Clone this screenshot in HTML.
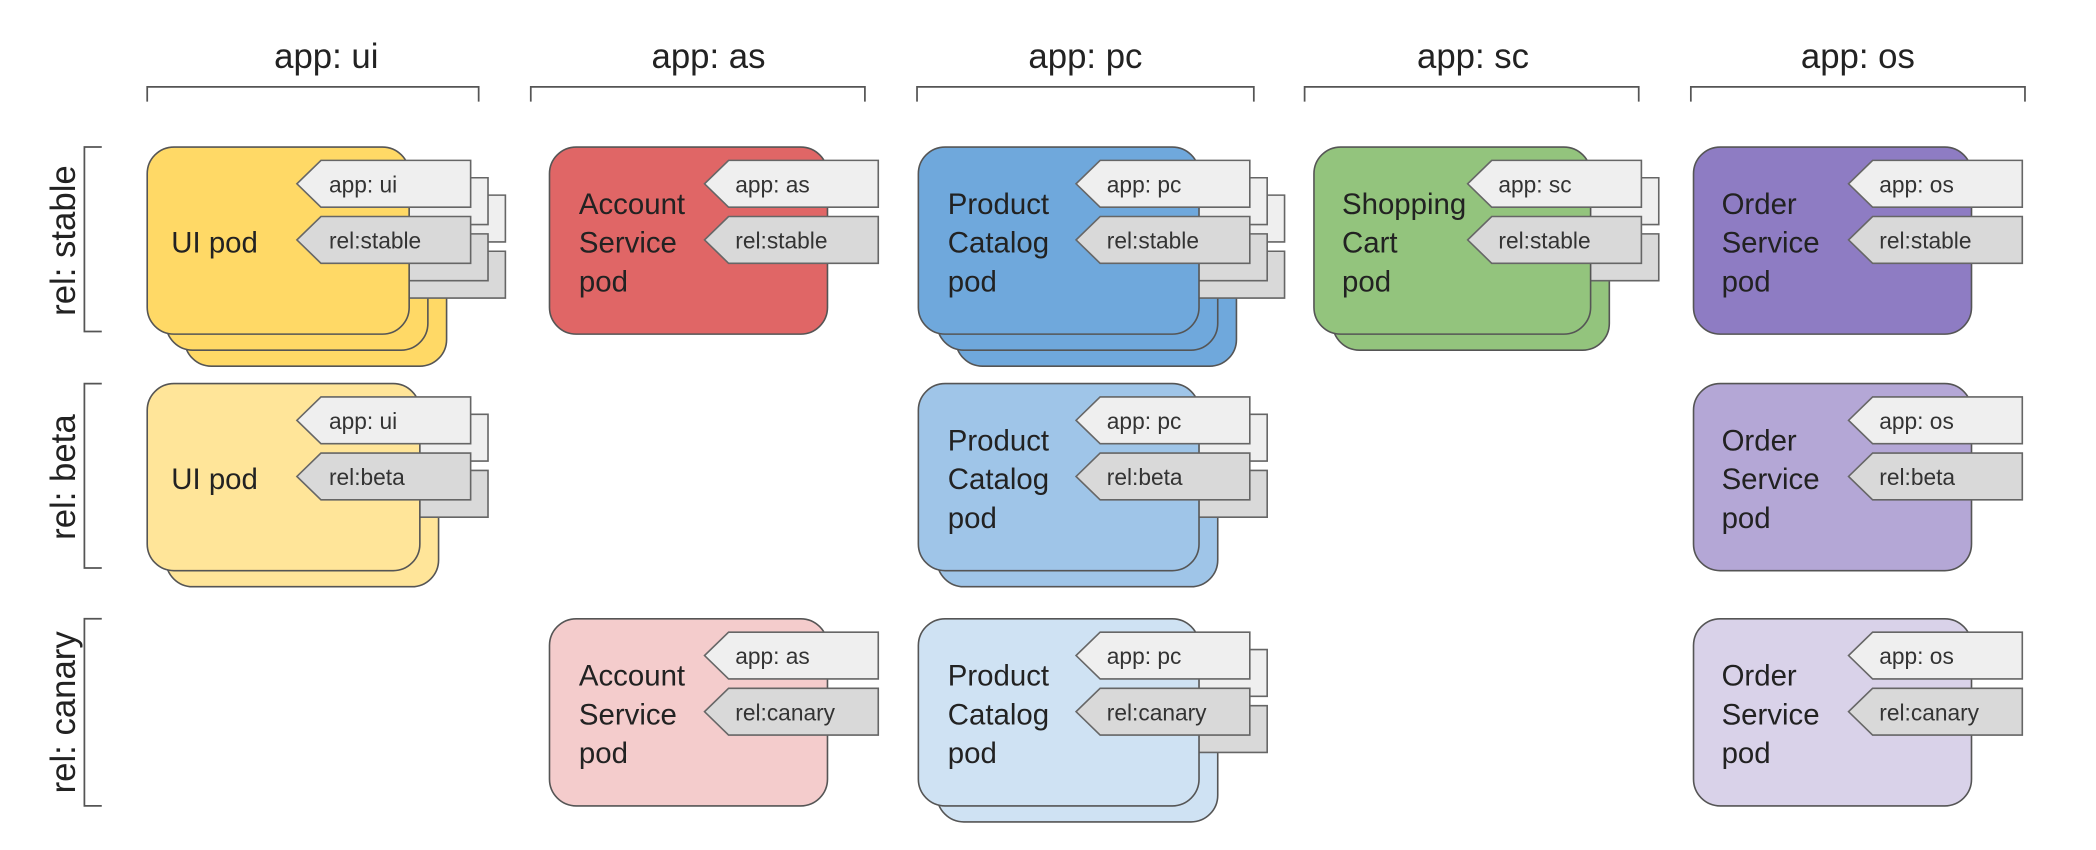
<!DOCTYPE html>
<html><head><meta charset="utf-8"><style>
html,body{margin:0;padding:0;background:#fff;width:2096px;height:850px;overflow:hidden}
svg{display:block}
text{font-family:"Liberation Sans",sans-serif;fill:#222}
.h{font-size:26px;text-anchor:middle}
.p{font-size:22px}
.t{font-size:17px;fill:#333}
.br{fill:none;stroke:#555;stroke-width:1.3}
.pod{stroke:#555;stroke-width:1.2}
.ta{fill:#efefef;stroke:#666;stroke-width:1.2}
.tr{fill:#d9d9d9;stroke:#666;stroke-width:1.2}
</style></head><body>
<svg width="2096" height="850" viewBox="0 0 1568 636" xmlns="http://www.w3.org/2000/svg">
<defs>
<polygon id="tg" points="18,0 130,0 130,35 18,35 0,17.5"/>
</defs>
<!-- headers -->
<text class="h" x="244" y="51">app: ui</text>
<text class="h" x="530" y="51">app: as</text>
<text class="h" x="812" y="51">app: pc</text>
<text class="h" x="1102" y="51">app: sc</text>
<text class="h" x="1390" y="51">app: os</text>
<path class="br" d="M110,76 V65 H358 V76"/>
<path class="br" d="M397,76 V65 H647 V76"/>
<path class="br" d="M686,76 V65 H938 V76"/>
<path class="br" d="M976,76 V65 H1226 V76"/>
<path class="br" d="M1265,76 V65 H1515 V76"/>
<!-- rows -->
<path class="br" d="M76,110 H63 V248 H76"/>
<path class="br" d="M76,287 H63 V425 H76"/>
<path class="br" d="M76,463 H63 V603 H76"/>
<text class="h" transform="translate(56,180) rotate(-90)">rel: stable</text>
<text class="h" transform="translate(56,357) rotate(-90)">rel: beta</text>
<text class="h" transform="translate(56,533) rotate(-90)">rel: canary</text>

<!-- UI stable (3) -->
<rect class="pod" x="138" y="134" width="196" height="140" rx="20" fill="#FFD966"/>
<rect class="pod" x="124" y="122" width="196" height="140" rx="20" fill="#FFD966"/>
<use href="#tg" class="ta" x="248" y="146"/><use href="#tg" class="tr" x="248" y="188"/>
<use href="#tg" class="ta" x="235" y="133"/><use href="#tg" class="tr" x="235" y="175"/>
<rect class="pod" x="110" y="110" width="196" height="140" rx="20" fill="#FFD966"/>
<use href="#tg" class="ta" x="222" y="120"/><use href="#tg" class="tr" x="222" y="162"/>
<text class="t" x="246" y="144">app: ui</text><text class="t" x="246" y="186">rel:stable</text>
<text class="p" x="128" y="189">UI pod</text>

<!-- AS stable -->
<rect class="pod" x="411" y="110" width="208" height="140" rx="20" fill="#E06666"/>
<use href="#tg" class="ta" x="527" y="120"/><use href="#tg" class="tr" x="527" y="162"/>
<text class="t" x="550" y="144">app: as</text><text class="t" x="550" y="186">rel:stable</text>
<text class="p" x="433" y="160">Account</text><text class="p" x="433" y="189">Service</text><text class="p" x="433" y="218">pod</text>

<!-- PC stable (3) -->
<rect class="pod" x="715" y="134" width="210" height="140" rx="20" fill="#6FA8DC"/>
<rect class="pod" x="701" y="122" width="210" height="140" rx="20" fill="#6FA8DC"/>
<use href="#tg" class="ta" x="831" y="146"/><use href="#tg" class="tr" x="831" y="188"/>
<use href="#tg" class="ta" x="818" y="133"/><use href="#tg" class="tr" x="818" y="175"/>
<rect class="pod" x="687" y="110" width="210" height="140" rx="20" fill="#6FA8DC"/>
<use href="#tg" class="ta" x="805" y="120"/><use href="#tg" class="tr" x="805" y="162"/>
<text class="t" x="828" y="144">app: pc</text><text class="t" x="828" y="186">rel:stable</text>
<text class="p" x="709" y="160">Product</text><text class="p" x="709" y="189">Catalog</text><text class="p" x="709" y="218">pod</text>

<!-- SC stable (2) -->
<rect class="pod" x="997" y="122" width="207" height="140" rx="20" fill="#93C47D"/>
<use href="#tg" class="ta" x="1111" y="133"/><use href="#tg" class="tr" x="1111" y="175"/>
<rect class="pod" x="983" y="110" width="207" height="140" rx="20" fill="#93C47D"/>
<use href="#tg" class="ta" x="1098" y="120"/><use href="#tg" class="tr" x="1098" y="162"/>
<text class="t" x="1121" y="144">app: sc</text><text class="t" x="1121" y="186">rel:stable</text>
<text class="p" x="1004" y="160">Shopping</text><text class="p" x="1004" y="189">Cart</text><text class="p" x="1004" y="218">pod</text>

<!-- OS stable -->
<rect class="pod" x="1267" y="110" width="208" height="140" rx="20" fill="#8E7CC3"/>
<use href="#tg" class="ta" x="1383" y="120"/><use href="#tg" class="tr" x="1383" y="162"/>
<text class="t" x="1406" y="144">app: os</text><text class="t" x="1406" y="186">rel:stable</text>
<text class="p" x="1288" y="160">Order</text><text class="p" x="1288" y="189">Service</text><text class="p" x="1288" y="218">pod</text>

<!-- UI beta (2) -->
<rect class="pod" x="124" y="299" width="204" height="140" rx="20" fill="#FFE599"/>
<use href="#tg" class="ta" x="235" y="310"/><use href="#tg" class="tr" x="235" y="352"/>
<rect class="pod" x="110" y="287" width="204" height="140" rx="20" fill="#FFE599"/>
<use href="#tg" class="ta" x="222" y="297"/><use href="#tg" class="tr" x="222" y="339"/>
<text class="t" x="246" y="321">app: ui</text><text class="t" x="246" y="363">rel:beta</text>
<text class="p" x="128" y="366">UI pod</text>

<!-- PC beta (2) -->
<rect class="pod" x="701" y="299" width="210" height="140" rx="20" fill="#9FC5E8"/>
<use href="#tg" class="ta" x="818" y="310"/><use href="#tg" class="tr" x="818" y="352"/>
<rect class="pod" x="687" y="287" width="210" height="140" rx="20" fill="#9FC5E8"/>
<use href="#tg" class="ta" x="805" y="297"/><use href="#tg" class="tr" x="805" y="339"/>
<text class="t" x="828" y="321">app: pc</text><text class="t" x="828" y="363">rel:beta</text>
<text class="p" x="709" y="337">Product</text><text class="p" x="709" y="366">Catalog</text><text class="p" x="709" y="395">pod</text>

<!-- OS beta -->
<rect class="pod" x="1267" y="287" width="208" height="140" rx="20" fill="#B4A7D6"/>
<use href="#tg" class="ta" x="1383" y="297"/><use href="#tg" class="tr" x="1383" y="339"/>
<text class="t" x="1406" y="321">app: os</text><text class="t" x="1406" y="363">rel:beta</text>
<text class="p" x="1288" y="337">Order</text><text class="p" x="1288" y="366">Service</text><text class="p" x="1288" y="395">pod</text>

<!-- AS canary -->
<rect class="pod" x="411" y="463" width="208" height="140" rx="20" fill="#F4CCCC"/>
<use href="#tg" class="ta" x="527" y="473"/><use href="#tg" class="tr" x="527" y="515"/>
<text class="t" x="550" y="497">app: as</text><text class="t" x="550" y="539">rel:canary</text>
<text class="p" x="433" y="513">Account</text><text class="p" x="433" y="542">Service</text><text class="p" x="433" y="571">pod</text>

<!-- PC canary (2) -->
<rect class="pod" x="701" y="475" width="210" height="140" rx="20" fill="#CFE2F3"/>
<use href="#tg" class="ta" x="818" y="486"/><use href="#tg" class="tr" x="818" y="528"/>
<rect class="pod" x="687" y="463" width="210" height="140" rx="20" fill="#CFE2F3"/>
<use href="#tg" class="ta" x="805" y="473"/><use href="#tg" class="tr" x="805" y="515"/>
<text class="t" x="828" y="497">app: pc</text><text class="t" x="828" y="539">rel:canary</text>
<text class="p" x="709" y="513">Product</text><text class="p" x="709" y="542">Catalog</text><text class="p" x="709" y="571">pod</text>

<!-- OS canary -->
<rect class="pod" x="1267" y="463" width="208" height="140" rx="20" fill="#D9D2E9"/>
<use href="#tg" class="ta" x="1383" y="473"/><use href="#tg" class="tr" x="1383" y="515"/>
<text class="t" x="1406" y="497">app: os</text><text class="t" x="1406" y="539">rel:canary</text>
<text class="p" x="1288" y="513">Order</text><text class="p" x="1288" y="542">Service</text><text class="p" x="1288" y="571">pod</text>
</svg>
</body></html>
